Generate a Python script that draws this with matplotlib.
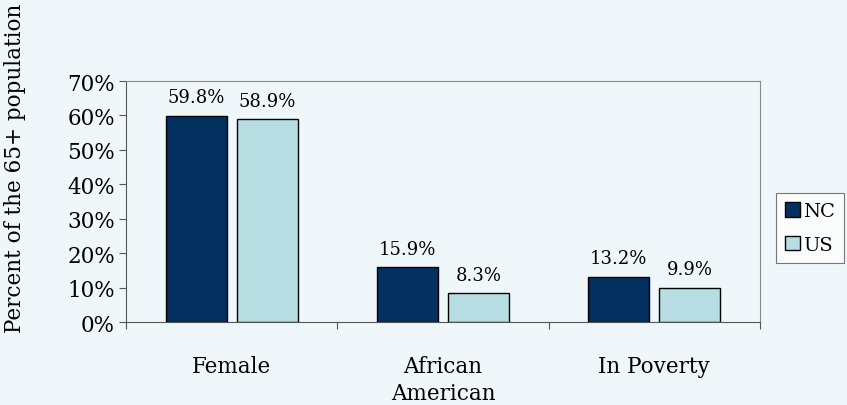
import numpy as np
import matplotlib.pyplot as plt
from matplotlib.ticker import PercentFormatter

# chart data
categories = ["Female", "African\nAmerican", "In Poverty"]
nc_values = [59.8, 15.9, 13.2]
us_values = [58.9, 8.3, 9.9]
series_names = ["NC", "US"]

bg = "#F0F7FA"
nc_color = "#03305F"
us_color = "#B8DEE3"

plt.rcParams["font.family"] = ["DejaVu Serif"]

fig = plt.figure(figsize=(8.47, 4.06), dpi=100, facecolor=bg)
ax = fig.add_axes([0.1488, 0.2044, 0.7485, 0.5936], facecolor=bg)

x = np.arange(len(categories))
w = 0.29
off = 0.168
b1 = ax.bar(x - off, nc_values, w, color=nc_color, edgecolor="black", linewidth=1, label=series_names[0])
b2 = ax.bar(x + off, us_values, w, color=us_color, edgecolor="black", linewidth=1, label=series_names[1])

for bars, vals in [(b1, nc_values), (b2, us_values)]:
    for b, v in zip(bars, vals):
        ax.annotate(f"{v:.1f}%", (b.get_x() + b.get_width() / 2, v),
                    xytext=(0, 7), textcoords="offset points",
                    ha="center", va="bottom", fontsize=13)

ax.set_xlim(-0.5, 2.5)
ax.set_ylim(0, 70)
ax.set_yticks(range(0, 71, 10))
ax.yaxis.set_major_formatter(PercentFormatter(decimals=0))
ax.tick_params(axis="y", labelsize=15.5, direction="out", length=5, color="#555555", pad=3)

# category boundaries as ticks, names as minor ticks
ax.set_xticks([-0.5, 0.5, 1.5, 2.5])
ax.set_xticklabels([])
ax.set_xticks(x, minor=True)
ax.set_xticklabels(categories, minor=True, fontsize=15.5, va="top", linespacing=1.25)
ax.tick_params(axis="x", which="major", direction="out", length=5, color="#555555")
ax.tick_params(axis="x", which="minor", length=0, pad=24)

for s in ["top", "right"]:
    ax.spines[s].set_color("#888888")
for s in ["left", "bottom"]:
    ax.spines[s].set_color("#555555")

fig.text(0.018, 0.585, "Percent of the 65+ population", rotation=90,
         ha="center", va="center", fontsize=15.5)

leg = fig.legend(handles=[b1, b2], loc="center left", bbox_to_anchor=(0.905, 0.436),
                 fontsize=14, frameon=True, fancybox=False, edgecolor="#555555",
                 facecolor="white", handlelength=0.75, handleheight=0.75,
                 handletextpad=0.2, borderpad=0.45, labelspacing=0.8)
leg.get_frame().set_linewidth(0.8)

fig.savefig("out.png", dpi=100, facecolor=bg)
